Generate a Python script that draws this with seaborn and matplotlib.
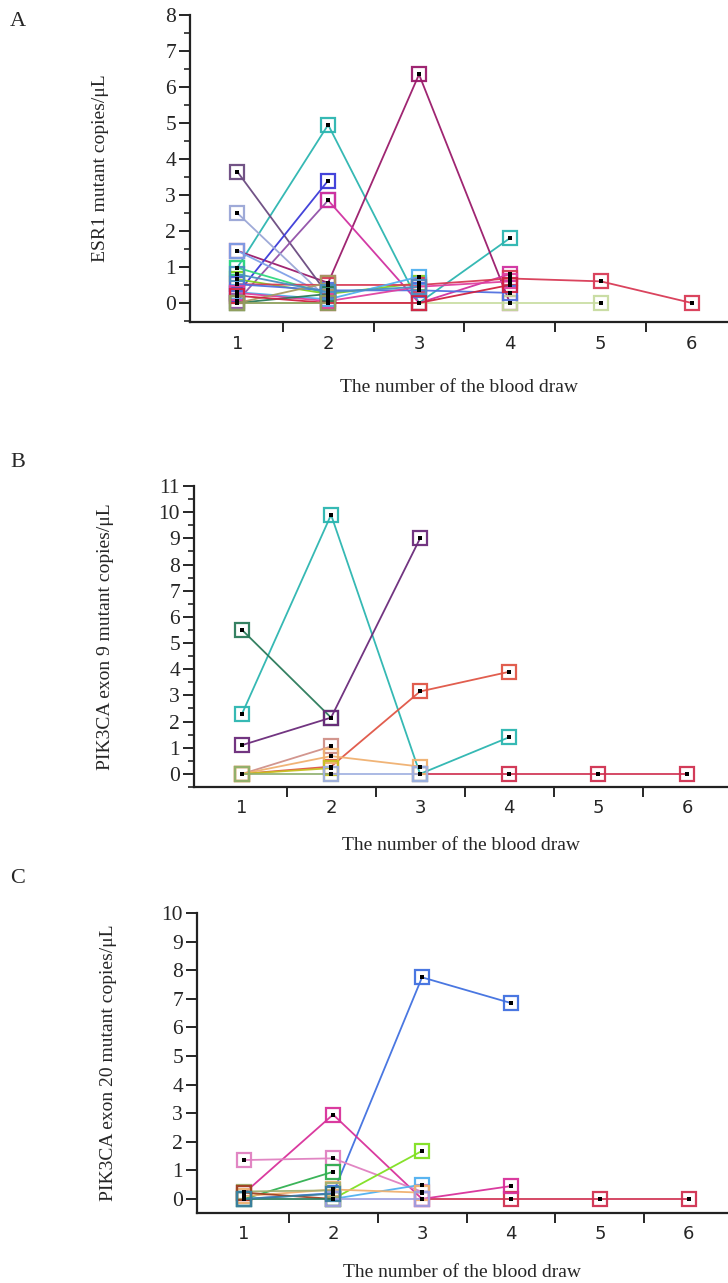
import numpy as np
import pandas as pd
import matplotlib
matplotlib.use("Agg")
import matplotlib.pyplot as plt
from matplotlib.ticker import MultipleLocator, FixedLocator
import seaborn as sns

nan = np.nan

# ---- Panel A: ESR1 mutant copies/uL per blood draw ----
esr1_colors = ["#2bb5b0", "#9a1a6a", "#6a4a80", "#3a3ad8", "#9050a8", "#d030a0",
               "#9aa6d6", "#7fa0e8", "#30d880", "#80d020", "#d83a55", "#c8dca0",
               "#50b0f0", "#5070e0", "#e040a0", "#2a7a5a", "#a89a60", "#d02040",
               "#4a90c0", "#90a060"]
esr1_values = [
    [0.98, 4.95, 0.0, 1.8],
    [1.45, 0.56, 6.35, 0.0],
    [3.65, 0.22],
    [0.25, 3.4],
    [0.05, 2.85],
    [nan, 2.85, 0.0, 0.8],
    [2.5, 0.1],
    [1.45, 0.2],
    [0.98, 0.25],
    [0.66, 0.25, 0.55],
    [0.52, 0.5, 0.5, 0.68, 0.6, 0.0],
    [0.0, 0.0, 0.0, 0.0, 0.0],
    [0.3, 0.1, 0.73],
    [0.52, 0.35, 0.35, 0.28],
    [0.28, 0.05, 0.45, 0.6],
    [0.0, 0.25],
    [0.0, 0.56],
    [0.2, 0.0, 0.0, 0.5],
    [0.8, 0.3, 0.45],
    [0.0, 0.0],
]

# ---- Panel B: PIK3CA exon 9 ----
ex9_colors = ["#d03050", "#2bb5b0", "#2a7a5a", "#6a2a7a", "#e05545", "#d09088",
              "#f0b070", "#c8c020", "#90b070", "#a0b0e0"]
ex9_values = [
    [nan, nan, 0.0, 0.0, 0.0, 0.0],
    [2.3, 9.9, 0.0, 1.4],
    [5.5, 2.15],
    [1.1, 2.15, 9.0],
    [0.0, 0.28, 3.15, 3.9],
    [0.0, 1.05],
    [0.0, 0.68, 0.28],
    [0.0, 0.22],
    [0.0, 0.0],
    [nan, 0.0, 0.0],
]

# ---- Panel C: PIK3CA exon 20 ----
ex20_colors = ["#d03050", "#4070e0", "#d8309a", "#e080c0", "#30b050", "#80e020",
               "#50b0f0", "#f0b070", "#a0b070", "#a04020", "#2a7a5a", "#a0a0e0",
               "#3a80a0"]
ex20_values = [
    [nan, nan, 0.0, 0.0, 0.0, 0.0],
    [0.0, 0.2, 7.75, 6.85],
    [0.2, 2.95, 0.0, 0.45],
    [1.36, 1.42, 0.25],
    [0.0, 0.95],
    [nan, 0.0, 1.68],
    [nan, 0.0, 0.5],
    [0.1, 0.33, 0.22],
    [0.26, 0.3],
    [0.22, 0.0],
    [0.0, 0.0],
    [nan, 0.0, 0.0],
    [0.0, 0.18],
]

draw_ticks = [1, 2, 3, 4, 5, 6]
xlabel = "The number of the blood draw"

sns.set_style("ticks")
plt.rcParams["font.family"] = ["Liberation Serif", "DejaVu Serif"]

fig = plt.figure(figsize=(7.28, 12.83), dpi=100)


def to_long(values):
    rows = []
    for i, vals in enumerate(values):
        for j, v in enumerate(vals):
            if not np.isnan(v):
                rows.append({"series": i, "draw": j + 1, "value": v})
    return pd.DataFrame(rows)


def draw_panel(rect, values, colors, ylim, ymax_tick, xlim, ylabel, minor_y, xlab_y, letter, letter_y):
    ax = fig.add_axes(rect)
    df = to_long(values)
    for i, c in enumerate(colors):
        sub = df[df["series"] == i]
        sns.lineplot(data=sub, x="draw", y="value", ax=ax, color=c, lw=1.3,
                     marker="s", markersize=9.5, markerfacecolor="none",
                     markeredgecolor=c, markeredgewidth=1.6, alpha=0.95,
                     estimator=None, legend=False)
    # small black dot at the centre of every square marker
    sns.scatterplot(data=df, x="draw", y="value", ax=ax, color="black",
                    marker="s", s=8, linewidth=0, legend=False, zorder=5)

    ax.set_xlim(*xlim)
    ax.set_ylim(*ylim)
    for s in ["top", "right"]:
        ax.spines[s].set_visible(False)
    ax.spines["left"].set_bounds(ylim[0], ymax_tick)
    for s in ["left", "bottom"]:
        ax.spines[s].set_linewidth(1.6)
        ax.spines[s].set_color("#222222")

    ax.set_yticks(np.arange(0, ymax_tick + 1, 1))
    if minor_y:
        ax.yaxis.set_minor_locator(MultipleLocator(0.5))
    ax.tick_params(axis="y", which="major", length=8, width=1.4, labelsize=15.5, pad=2)
    ax.tick_params(axis="y", which="minor", length=4, width=1.2)

    ax.set_xticks(draw_ticks)
    ax.set_xticklabels([str(t) for t in draw_ticks], family="DejaVu Sans")
    ax.xaxis.set_minor_locator(FixedLocator([1.5, 2.5, 3.5, 4.5, 5.5]))
    ax.tick_params(axis="x", which="major", length=0, labelsize=13, pad=9)
    ax.tick_params(axis="x", which="minor", length=7, width=1.4)

    ax.set_xlabel(xlabel, fontsize=14)
    ax.xaxis.set_label_coords(0.5, xlab_y)
    ax.set_ylabel(ylabel, fontsize=14)
    ax.yaxis.set_label_coords(-0.15, 0.5)
    fig.text(0.014, letter_y, letter, fontsize=16, va="top")
    return ax


draw_panel([0.261, 0.749, 0.739, 0.2393], esr1_values, esr1_colors,
           (-0.53, 8.0), 8, (0.48, 6.40), "ESR1 mutant copies/\u03bcL", True,
           -0.185, "A", 0.991)
draw_panel([0.2665, 0.3866, 0.7335, 0.2346], ex9_values, ex9_colors,
           (-0.5, 11.0), 11, (0.46, 6.46), "PIK3CA exon 9 mutant copies/\u03bcL", True,
           -0.167, "B", 0.647)
draw_panel([0.2706, 0.0546, 0.7294, 0.2338], ex20_values, ex20_colors,
           (-0.49, 10.0), 10, (0.47, 6.44), "PIK3CA exon 20 mutant copies/\u03bcL", False,
           -0.17, "C", 0.323)

fig.savefig("out.png", dpi=100)
